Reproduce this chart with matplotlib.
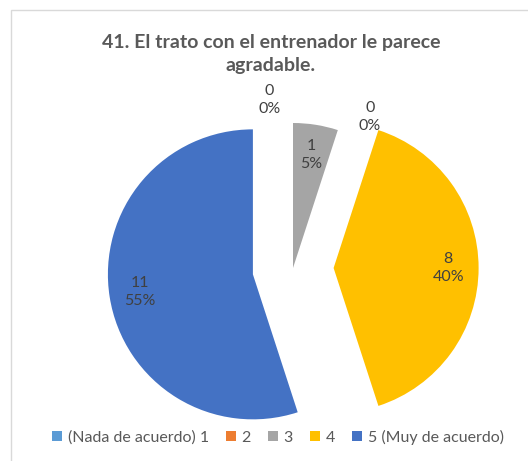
import numpy as np
import matplotlib.pyplot as plt
from matplotlib.patches import Rectangle

categories = ['(Nada de acuerdo) 1', '2', '3', '4', '5 (Muy de acuerdo)']
counts = [0, 0, 1, 8, 11]
colors = ['#5B9BD5', '#ED7D31', '#A5A5A5', '#FFC000', '#4472C4']
explode = [0, 0, 0, 0.28, 0.28]
# where Excel pushed the labels of the empty slices (degrees clockwise from top)
zero_label_angles = [-8, 27]

plt.rcParams['font.family'] = ['Lato', 'DejaVu Sans']

W, H = 528, 461
R = 145.0            # pie radius in pixels
cx, cy = 293, 268    # pie centre in pixels (from top-left)

fig = plt.figure(figsize=(W / 100, H / 100), dpi=100)
ax = fig.add_axes([0, 0, 1, 1])

total = sum(counts)


def fmt(p):
    return '{:.0f}\n{:.0f}%'.format(p * total / 100.0, p)


wedges, texts, autotexts = ax.pie(counts, colors=colors, startangle=90,
                                  counterclock=False, explode=explode,
                                  autopct=fmt, pctdistance=0.79,
                                  wedgeprops=dict(linewidth=0),
                                  textprops=dict(color='#404040', fontsize=11.5,
                                                 linespacing=1.4))

k = 0
for c, t in zip(counts, autotexts):
    if c == 0:
        a = np.radians(zero_label_angles[k])
        t.set_position((1.17 * np.sin(a), 1.17 * np.cos(a)))
        k += 1

ax.set_xlim(-cx / R, (W - cx) / R)
ax.set_ylim(-(H - cy) / R, cy / R)
ax.axis('off')

# chart area border
fig.add_artist(Rectangle((11 / W, -0.2), 1.2, 1.2 - 10 / H,
                         transform=fig.transFigure, fill=False,
                         edgecolor='#D9D9D9', linewidth=1))

fig.text(271 / W, 1 - 54 / H, '41. El trato con el entrenador le parece\nagradable.',
         ha='center', va='center', fontsize=14, fontweight='bold',
         color='#595959', linespacing=1.4)

fig.legend(wedges, categories, loc='center', bbox_to_anchor=(278 / W, 1 - 437 / H),
           ncol=5, frameon=False, fontsize=11.5, handlelength=0.6,
           handleheight=0.6, handletextpad=0.35, columnspacing=1.1,
           labelcolor='#595959')

plt.savefig('out.png', dpi=100)
